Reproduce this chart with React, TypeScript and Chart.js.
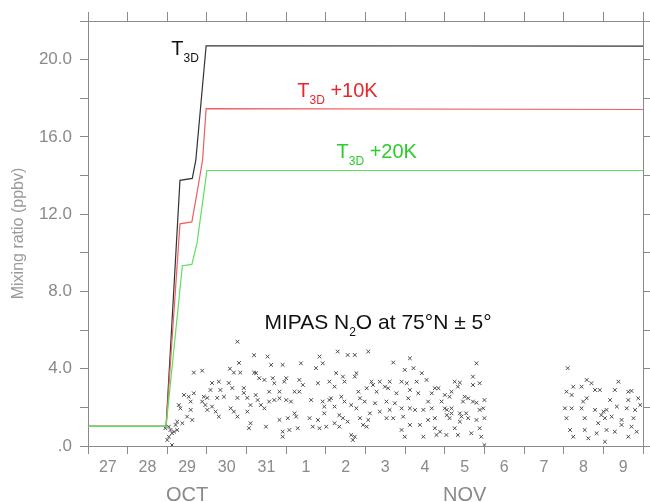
import React, { useEffect, useRef } from 'react';
import { Chart, registerables } from 'chart.js';

Chart.register(...registerables);

// ---- data ----
const dayLabels = ['27', '28', '29', '30', '31', '1', '2', '3', '4', '5', '6', '7', '8', '9'];
const monthLabels = ['OCT', 'NOV'];
const monthPositions = [2.5, 9.5];

const t3dDays = [0, 1.97, 2.32, 2.63, 2.72, 2.98, 14];
const t3dValues = [1.02, 1.02, 13.75, 13.85, 14.8, 20.72, 20.7];
const t3d10Days = [0, 1.97, 2.32, 2.62, 2.75, 2.89, 2.98, 14];
const t3d10Values = [1.02, 1.02, 11.5, 11.6, 13.1, 14.8, 17.46, 17.42];
const t3d20Days = [0, 1.97, 2.38, 2.62, 2.75, 3.0, 14];
const t3d20Values = [1.02, 1.02, 9.33, 9.4, 10.5, 14.26, 14.26];

const mipasDays = [
  3.77, 2.67, 2.88, 3.81, 3.58, 3.68, 3.84, 4.19, 4.19, 3.30, 3.13, 3.55, 3.64, 3.93, 3.09, 3.34, 2.67, 2.54, 2.42, 2.92,
  3.01, 3.26, 3.43, 3.77, 3.93, 4.02, 4.23, 2.29, 2.33, 2.59, 2.59, 2.88, 2.96, 3.01, 3.13, 3.22, 3.60, 3.68, 3.77, 4.02,
  4.10, 3.30, 2.50, 2.63, 2.25, 2.38, 4.10, 4.06, 2.04, 2.08, 2.17, 2.12, 2.04, 2.00, 2.12, 2.21, 1.95, 2.25,
  4.53, 4.62, 4.91, 5.37, 5.84, 5.92, 6.30, 6.55, 5.75, 4.24, 4.32, 4.45, 4.66, 4.70, 5.00, 4.95, 5.33, 5.42, 5.80, 6.09,
  6.26, 6.43, 6.47, 6.22, 4.57, 4.83, 5.21, 5.33, 4.28, 4.57, 4.70, 4.83, 5.00, 5.12, 5.63, 5.92, 6.09, 6.13, 6.39, 6.47,
  4.36, 4.45, 5.96, 6.22, 6.64, 5.21, 5.25, 5.96, 6.34, 6.43, 4.83, 5.04, 5.59, 5.80, 6.55, 4.49, 5.29, 5.67, 5.84, 6.01,
  4.91, 5.08, 4.91, 6.64, 6.68, 6.22, 6.34,
  6.73, 7.07, 7.70, 8.12, 7.99, 8.21, 8.42, 6.77, 6.73, 7.15, 7.19, 7.36, 7.49, 7.61, 7.91, 8.04, 8.29, 8.54, 8.75, 8.84,
  6.82, 7.03, 7.28, 7.57, 7.78, 8.12, 8.33, 8.67, 9.00, 6.86, 6.98, 7.24, 7.53, 7.74, 8.08, 8.58, 8.92, 6.77, 7.11, 7.36,
  7.61, 7.91, 8.12, 8.25, 8.46, 8.67, 9.05, 6.86, 7.07, 7.53, 7.70, 7.95, 8.58, 8.75, 6.94, 7.03, 8.12, 8.37, 8.75, 7.91,
  7.99, 8.46, 6.73, 8.79, 8.88, 9.05,
  9.80, 9.71, 9.88, 9.25, 9.38, 9.33, 9.71, 9.17, 9.12, 9.50, 9.59, 9.71, 9.80, 10.0, 9.46, 9.00, 9.17, 9.38, 9.54, 9.88,
  9.97, 9.17, 9.12, 9.42, 9.59, 9.80, 10.0, 9.38, 9.25, 9.88, 9.67, 9.33, 9.04, 9.92, 10.0,
  12.10, 12.58, 12.70, 13.38, 12.45, 12.79, 12.91, 13.29, 13.63, 13.71, 12.07, 12.24, 12.20, 12.58, 12.49, 13.17, 13.63,
  13.88, 12.03, 12.20, 12.45, 12.79, 13.00, 13.08, 13.34, 13.59, 13.80, 13.93, 12.07, 12.53, 12.95, 13.04, 13.21, 13.46,
  13.76, 12.87, 13.46, 13.71, 12.53, 13.08, 13.29, 13.84, 12.16, 12.24, 12.62, 13.04, 13.63, 12.83,
];
const mipasValues = [
  5.40, 3.80, 3.90, 4.30, 4.00, 3.80, 3.80, 4.70, 3.80, 3.33, 3.26, 3.26, 3.00, 3.00, 2.90, 2.90, 2.73, 2.55, 2.64, 2.55,
  2.49, 2.49, 2.55, 2.49, 2.75, 2.49, 2.64, 2.12, 1.95, 2.30, 1.87, 2.30, 2.12, 1.87, 2.04, 1.78, 1.95, 1.78, 1.52, 1.78,
  2.12, 1.52, 1.52, 1.35, 1.26, 1.18, 1.18, 0.92, 1.00, 0.83, 0.74, 0.66, 0.48, 0.31, 0.05, 1.09, 0.92, 0.83,
  4.63, 4.20, 4.20, 4.28, 4.63, 4.28, 4.89, 4.71, 4.03, 3.77, 3.51, 3.42, 3.51, 3.25, 3.51, 3.33, 3.42, 3.16, 3.25, 3.33,
  3.77, 3.59, 3.33, 3.07, 2.81, 2.81, 2.81, 2.81, 2.38, 2.30, 2.38, 2.47, 2.38, 2.30, 2.38, 2.30, 2.38, 2.47, 2.55, 2.30,
  2.12, 1.95, 2.04, 2.04, 2.12, 1.69, 1.52, 1.69, 1.60, 1.44, 1.35, 1.44, 1.44, 1.35, 1.26, 1.00, 0.92, 1.00, 0.92, 1.00,
  0.74, 0.83, 0.48, 0.57, 0.31, 1.18, 1.00,
  4.71, 4.89, 4.32, 4.54, 3.94, 4.03, 3.77, 3.77, 3.59, 3.33, 3.16, 3.33, 3.07, 3.33, 3.33, 3.25, 3.33, 3.42, 2.99, 2.99,
  2.81, 2.99, 2.81, 2.99, 2.73, 2.90, 2.73, 2.73, 2.64, 2.47, 2.30, 2.21, 2.30, 2.21, 2.47, 2.30, 2.30, 1.95, 1.69, 1.78,
  1.87, 1.95, 1.95, 1.87, 1.87, 1.95, 1.87, 1.44, 1.35, 1.44, 1.44, 1.52, 1.35, 1.44, 1.09, 1.00, 1.09, 1.09, 0.92, 0.83,
  0.48, 0.48, 0.48, 0.57, 0.74, 1.60,
  4.28, 3.59, 3.25, 3.33, 3.28, 3.07, 3.16, 2.81, 2.55, 2.55, 2.47, 2.30, 2.24, 2.38, 2.30, 1.95, 1.95, 1.69, 1.69, 1.87,
  1.95, 1.69, 1.44, 1.52, 1.44, 1.35, 1.44, 1.26, 0.92, 0.92, 0.66, 0.57, 0.57, 0.48, 0.05,
  4.03, 3.42, 3.25, 3.33, 3.07, 2.90, 2.90, 2.90, 2.81, 2.85, 2.81, 3.07, 2.64, 2.47, 2.30, 2.38, 2.38,
  2.47, 1.95, 1.95, 1.95, 1.87, 1.78, 1.87, 2.04, 1.95, 1.87, 2.12, 1.44, 1.44, 1.60, 1.44, 1.52, 1.35,
  1.44, 1.18, 1.09, 1.00, 0.83, 0.83, 0.74, 0.74, 0.83, 0.48, 0.40, 0.22, 0.48, 0.66,
];

const yMin = 0;
const yMax = 22;
const xMin = 0;
const xMax = 14;

const FONT = 'Liberation Sans, Arial, sans-serif';
const AXIS = '#8a8a8a';

const zip = (xs: number[], ys: number[]) => xs.map((x, i) => ({ x, y: ys[i] }));

type Part = { text: string; sub?: boolean };
const textLabels: { parts: Part[]; day: number; value: number; color: string; size: number }[] = [
  { parts: [{ text: 'T' }, { text: '3D', sub: true }], day: 2.1, value: 20.26, color: '#111111', size: 20 },
  { parts: [{ text: 'T' }, { text: '3D', sub: true }, { text: ' +10K' }], day: 5.28, value: 18.08, color: '#e8262c', size: 20 },
  { parts: [{ text: 'T' }, { text: '3D', sub: true }, { text: ' +20K' }], day: 6.27, value: 14.92, color: '#2ccc2c', size: 20 },
  {
    parts: [{ text: 'MIPAS N' }, { text: '2', sub: true }, { text: 'O at 75°N ± 5°' }],
    day: 4.45,
    value: 6.06,
    color: '#111111',
    size: 21,
  },
];

const labelPlugin = {
  id: 'textLabels',
  afterDatasetsDraw(chart: any) {
    const { ctx } = chart;
    const xs = chart.scales.x;
    const ys = chart.scales.y;
    ctx.save();
    ctx.textBaseline = 'alphabetic';
    ctx.textAlign = 'left';
    for (const lab of textLabels) {
      let px = xs.getPixelForValue(lab.day);
      const py = ys.getPixelForValue(lab.value);
      ctx.fillStyle = lab.color;
      for (const p of lab.parts) {
        ctx.font = p.sub ? `12px ${FONT}` : `${lab.size}px ${FONT}`;
        ctx.fillText(p.text, px, p.sub ? py + 7 : py);
        px += ctx.measureText(p.text).width;
      }
    }
    ctx.restore();
  },
};

export default function App() {
  const ref = useRef<HTMLCanvasElement | null>(null);

  useEffect(() => {
    if (!ref.current) return;
    const chart = new Chart(ref.current, {
      type: 'scatter',
      data: {
        datasets: [
          {
            type: 'line',
            data: zip(t3d20Days, t3d20Values),
            borderColor: '#5ee05e',
            borderWidth: 1.2,
            pointRadius: 0,
            tension: 0,
            fill: false,
          } as any,
          {
            type: 'line',
            data: zip(t3d10Days, t3d10Values),
            borderColor: '#ef5f5f',
            borderWidth: 1.2,
            pointRadius: 0,
            tension: 0,
            fill: false,
          } as any,
          {
            type: 'line',
            data: zip(t3dDays, t3dValues),
            borderColor: '#333333',
            borderWidth: 1.2,
            pointRadius: 0,
            tension: 0,
            fill: false,
          } as any,
          {
            type: 'scatter',
            data: zip(mipasDays, mipasValues),
            pointStyle: 'crossRot',
            pointRadius: 2.6,
            borderColor: '#4a4a4a',
            borderWidth: 1,
            backgroundColor: '#4a4a4a',
          } as any,
        ],
      },
      options: {
        animation: false,
        responsive: false,
        devicePixelRatio: 1,
        layout: { padding: 0 },
        plugins: { legend: { display: false }, tooltip: { enabled: false } },
        scales: {
          x: {
            type: 'linear',
            position: 'bottom',
            weight: 0,
            min: xMin,
            max: xMax,
            afterBuildTicks: (s: any) => {
              const t: any[] = [];
              for (let i = 0; i <= dayLabels.length; i++) {
                t.push({ value: i });
                if (i < dayLabels.length) t.push({ value: i + 0.5 });
              }
              s.ticks = t;
            },
            ticks: {
              autoSkip: false,
              maxRotation: 0,
              padding: 4,
              color: AXIS,
              font: { family: FONT, size: 16 },
              callback: (v: any) => {
                const n = Number(v);
                return n % 1 === 0.5 ? dayLabels[Math.floor(n)] : '';
              },
            },
            grid: {
              drawOnChartArea: false,
              drawTicks: true,
              tickLength: 8,
              color: (c: any) => (c.tick && Number.isInteger(c.tick.value) ? AXIS : 'rgba(0,0,0,0)'),
            },
            border: { display: true, color: AXIS, width: 1 },
            afterFit: (s: any) => {
              s.height = 32;
            },
          },
          xMonth: {
            type: 'linear',
            position: 'bottom',
            weight: 1,
            min: xMin,
            max: xMax,
            afterBuildTicks: (s: any) => {
              s.ticks = monthPositions.map((v) => ({ value: v }));
            },
            ticks: {
              autoSkip: false,
              maxRotation: 0,
              padding: 5,
              color: AXIS,
              font: { family: FONT, size: 20 },
              callback: (v: any) => {
                const i = monthPositions.indexOf(Number(v));
                return i >= 0 ? monthLabels[i] : '';
              },
            },
            grid: { display: false, drawTicks: false },
            border: { display: false },
            afterFit: (s: any) => {
              s.height = 24;
            },
          },
          xTop: {
            type: 'linear',
            position: 'top',
            min: xMin,
            max: xMax,
            afterBuildTicks: (s: any) => {
              const t: any[] = [];
              for (let i = 0; i <= dayLabels.length; i++) t.push({ value: i });
              s.ticks = t;
            },
            ticks: { display: false },
            grid: { drawOnChartArea: false, drawTicks: true, tickLength: 9, color: AXIS },
            border: { display: true, color: AXIS, width: 1 },
            afterFit: (s: any) => {
              s.height = 21;
            },
          },
          y: {
            type: 'linear',
            position: 'left',
            min: yMin,
            max: yMax,
            ticks: {
              stepSize: 2,
              padding: 8,
              color: AXIS,
              font: { family: FONT, size: 17 },
              callback: (v: any) => {
                const n = Number(v);
                if (n % 4 !== 0) return '';
                return n === 0 ? '.0' : n.toFixed(1);
              },
            },
            grid: { drawOnChartArea: false, drawTicks: true, tickLength: 8, color: AXIS },
            border: { display: true, color: AXIS, width: 1 },
            title: {
              display: true,
              text: 'Mixing ratio (ppbv)',
              color: '#999999',
              font: { family: FONT, size: 16 },
              padding: { top: 9, bottom: 0 },
            },
            afterFit: (s: any) => {
              s.width = 88;
            },
          },
          yRight: {
            type: 'linear',
            position: 'right',
            min: yMin,
            max: yMax,
            ticks: { stepSize: 2, display: false },
            grid: { drawOnChartArea: false, drawTicks: true, tickLength: 7, color: AXIS },
            border: { display: true, color: AXIS, width: 1 },
            afterFit: (s: any) => {
              s.width = 7;
            },
          },
        },
      } as any,
      plugins: [labelPlugin],
    });
    return () => chart.destroy();
  }, []);

  return (
    <div style={{ position: 'fixed', left: 0, top: 0, width: 650, height: 502, background: '#fff' }}>
      <canvas ref={ref} width={650} height={502} style={{ width: 650, height: 502, display: 'block' }} />
    </div>
  );
}
